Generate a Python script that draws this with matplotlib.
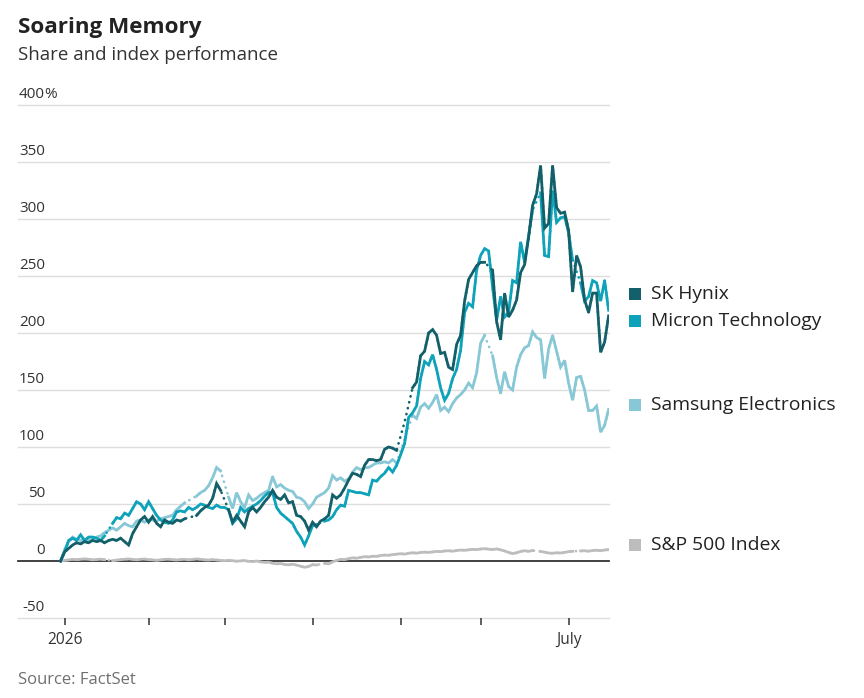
import numpy as np
import pandas as pd
import matplotlib
matplotlib.use('Agg')
import matplotlib.pyplot as plt
from matplotlib.patches import Rectangle

plt.rcParams['font.family'] = ['Open Sans', 'DejaVu Sans']

nan = np.nan

# trading days (union of US and Korea), Dec 31 is the base
dates = pd.bdate_range('2025-12-31', '2026-07-15')
dates = dates.drop(pd.to_datetime(['2026-01-01', '2026-02-16', '2026-05-25']))

sk_hynix = [0,
    8, 11, 14, 16, 15, 17, 16, 18, 17, 18,
    16, 18, 19, 18, 20, 17, 14, 24, 30, 36,
    39, 34, 39, 33, 30, 36, 34, 33, 36, 35,
    37, nan, nan, 40, 44, 47, 49, 55, 68, 62,
    nan, 45, 34, 40, 35, 30, 43, 47, 43, 47,
    52, 56, 62, 56, 54, 58, 51, 52, 40, 39,
    35, 27, 34, 30, 35, 37, 40, 58, 55, 58,
    64, 71, 77, 76, 74, 84, 89, 89, 88, 89,
    98, 100, 99, 97, nan, 122, nan, 152, 157, 180,
    184, 200, 203, 198, 182, 183, 170, 168, 190, 198,
    228, 247, 253, 259, 262, 262, nan, 255, 210, 194,
    235, 214, 220, 229, 253, 260, 284, 312, 322, 347,
    292, 296, 347, 310, 305, 306, 290, 236, 268, 258,
    229, 218, 235, 235, 183, 192, 215]

micron = [0,
    8, 18, 20, 18, 23, 18, 21, 21, 20, 18,
    22, nan, 33, 38, 37, 42, 40, 46, 52, 50,
    45, 52, 46, 40, 36, 34, 33, 36, 43, 44,
    43, 47, 45, 47, 50, 49, 47, 46, 49, 47,
    47, 45, 33, 37, 47, 43, 46, 48, 50, 53,
    57, 60, 60, 47, 42, 39, 36, 33, 26, 21,
    14, 22, 31, 32, nan, 35, 36, 39, 45, 49,
    48, 62, 61, 60, 60, 59, 58, 71, 70, 74,
    77, 82, 78, 84, 93, 103, 126, 130, 136, 160,
    175, 172, 181, 168, 152, 141, 147, 160, 168, 185,
    218, 226, 223, 255, 268, 274, 272, 240, 211, 232,
    214, 218, 246, 244, 280, 262, 285, 308, nan, 323,
    268, 267, 325, 297, 301, 302, 288, 264, nan, 244,
    228, 232, 246, 244, 228, 246, 220]

samsung = [0,
    10, 17, 21, 19, 18, 19, 18, 19, 21, 22,
    25, 27, 29, 27, 30, 33, 31, 30, 35, 36,
    34, 36, 36, 35, 37, 38, 39, 40, 45, 48,
    51, nan, nan, 57, 60, 62, 66, 73, 82, 79,
    nan, 56, 46, 60, 52, 47, 58, 53, 55, 58,
    60, 62, 74, 65, 67, 64, 62, 61, 56, 55,
    52, 46, 50, 56, 58, 60, 64, 75, 71, 73,
    70, 72, 78, 82, 80, 82, 82, 84, 86, 86,
    87, 86, 89, 86, nan, 107, nan, 128, 125, 135,
    138, 134, 139, 146, 132, 135, 131, 138, 143, 146,
    150, 156, 152, 165, 191, 198, nan, 180, 161, 147,
    166, 153, 150, 170, 181, 187, 189, 201, 196, 194,
    160, 186, 198, 184, 170, 176, 156, 141, 161, 162,
    150, 132, 132, 136, 113, 119, 133]

sp500 = [0,
    0.5, 1.0, 1.5, 1.2, 1.5, 1.8, 1.5, 1.0, 1.3, 1.6,
    1.2, nan, 0.3, 0.8, 1.2, 1.5, 1.8, 1.4, 1.0, 1.5,
    1.7, 1.2, 1.0, 0.6, 1.0, 1.4, 1.6, 1.2, 0.9, 1.3,
    1.5, 1.0, 1.4, 1.8, 1.5, 1.0, 0.8, 1.2, 0.9, 0.5,
    0.2, 0.6, 0.3, -0.2, 0.1, 0.4, -0.3, -0.5, 0.0, -0.8,
    -1.2, -1.0, -2.0, -2.5, -2.2, -3.0, -3.4, -2.8, -3.6, -4.5,
    -5.5, -4.8, -3.2, -3.5, nan, -2.0, -2.5, -0.8, 0.5, 1.5,
    1.2, 2.0, 2.8, 2.4, 3.2, 3.8, 3.5, 4.2, 4.0, 4.8,
    5.2, 5.0, 5.6, 6.0, 6.4, 6.0, 6.8, 7.2, 6.9, 7.4,
    7.8, 7.5, 8.0, 8.4, 8.2, 8.8, 9.0, 8.6, 9.2, 9.6,
    9.4, 9.8, 10.2, 10.0, 10.5, 10.8, 10.4, 10.0, 10.6, 9.8,
    8.8, 7.5, 6.5, 7.2, 8.4, 9.0, 8.5, 9.2, nan, 8.4,
    7.8, 7.0, 6.8, 7.2, 7.0, 7.6, 8.2, 8.5, nan, 8.8,
    9.0, 8.6, 9.2, 9.4, 9.0, 9.6, 10.0]

names = ['SK Hynix', 'Micron Technology', 'Samsung Electronics', 'S&P 500 Index']
colors = ['#13606a', '#0ea3ba', '#88c8d6', '#bdbdbd']
y_ticks = [-50, 0, 50, 100, 150, 200, 250, 300, 350, 400]

for s in (sk_hynix, micron, samsung, sp500):
    assert len(s) == len(dates), len(s)

x = np.arange(len(dates))

fig = plt.figure(figsize=(8.64, 6.98), dpi=100)
W, H = 864, 698
ax = fig.add_axes([18 / W, 1 - 618 / H, 591 / W, 513 / H])
ax.set_xlim(-10.65, 137.1)
ax.set_ylim(-50, 400)
for sp in ax.spines.values():
    sp.set_visible(False)

for v in y_ticks:
    if v == 0:
        ax.axhline(0, color='#333333', lw=1.3, zorder=1.5, clip_on=False)
    else:
        ax.axhline(v, color='#dddddd', lw=1.0, zorder=1, clip_on=False)

series = [sp500, samsung, micron, sk_hynix]
cols = [colors[3], colors[2], colors[1], colors[0]]
for i, (s, c) in enumerate(zip(series, cols)):
    s = np.array(s, dtype=float)
    ok = ~np.isnan(s)
    ax.plot(x[ok], s[ok], color=c, lw=1.9, linestyle=(0, (0.1, 2.2)),
            dash_capstyle='round', zorder=2 + i)
    ax.plot(x, s, color=c, lw=2.0, solid_joinstyle='miter', zorder=2 + i)

# y labels sit above the gridlines, right aligned, % hangs out
lab_x = 27 / 591
for v in y_ticks:
    ax.text(lab_x, v + 2.5, str(v), transform=ax.get_yaxis_transform(),
            ha='right', va='bottom', fontsize=11, color='#333333')
ax.text(lab_x - 0.002, 400 + 2.5, '%', transform=ax.get_yaxis_transform(),
        ha='left', va='bottom', fontsize=11, color='#333333')
ax.set_yticks([])

# month ticks on first trading day of each month
months = dates.month
tick_pos = [i for i in range(1, len(dates)) if months[i] != months[i - 1]]
tick_lab = []
for i in tick_pos:
    if dates[i].month == 1:
        tick_lab.append('2026')
    elif dates[i].month == 7:
        tick_lab.append('July')
    else:
        tick_lab.append('')
ax.set_xticks(tick_pos)
ax.set_xticklabels(tick_lab)
ax.tick_params(axis='x', length=5, width=1.1, color='#333333', labelsize=11.2,
               labelcolor='#333333', pad=5)

fig.text(18 / W, 1 - 33 / H, 'Soaring Memory', fontsize=16.1, fontweight='bold',
         color='#222222', va='baseline')
fig.text(18 / W, 1 - 60 / H, 'Share and index performance', fontsize=13.5,
         color='#333333', va='baseline')
fig.text(18 / W, 1 - 684 / H, 'Source: FactSet', fontsize=12,
         color='#707070', va='baseline')

leg_y = [294, 321, 405, 545]
for name, c, yy in zip(names, colors, leg_y):
    fig.add_artist(Rectangle((629 / W, 1 - (yy + 6) / H), 12 / W, 12 / H,
                             transform=fig.transFigure, color=c, lw=0))
    fig.text(651 / W, 1 - yy / H, name, fontsize=13.9, color='#222222',
             va='center')

fig.savefig('out.png', dpi=100)
